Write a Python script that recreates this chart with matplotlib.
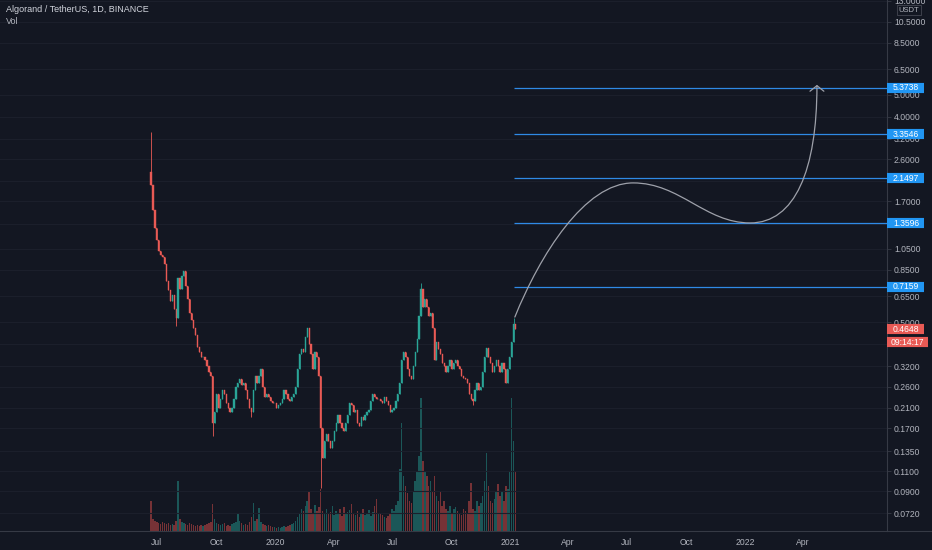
import matplotlib
matplotlib.use('Agg')
import matplotlib.pyplot as plt
import matplotlib.dates as mdates
from matplotlib.path import Path
from matplotlib.patches import FancyArrowPatch
from matplotlib.transforms import blended_transform_factory, ScaledTranslation
from matplotlib.lines import Line2D
from matplotlib.ticker import NullLocator
import numpy as np
import pandas as pd

plt.rcParams['font.family'] = ['Liberation Sans', 'DejaVu Sans']

title = 'Algorand / TetherUS, 1D, BINANCE'

# candles (3-day steps) from the listing up to the snapshot
start_date = '2019-06-22'
first_open = 2.30
closes = [
    2.00, 1.55, 1.30, 1.15, 1.03, 0.99, 0.97, 0.90, 0.76, 0.69,
    0.62, 0.66, 0.57, 0.52, 0.78, 0.70, 0.80, 0.84, 0.72, 0.63,
    0.55, 0.51, 0.47, 0.44, 0.39, 0.37, 0.35, 0.35, 0.34, 0.32,
    0.30, 0.29, 0.18, 0.20, 0.24, 0.21, 0.23, 0.25, 0.24, 0.22,
    0.21, 0.20, 0.21, 0.23, 0.26, 0.27, 0.28, 0.265, 0.27, 0.25,
    0.23, 0.21, 0.20, 0.25, 0.29, 0.27, 0.29, 0.31, 0.26, 0.235,
    0.24, 0.235, 0.225, 0.22, 0.22, 0.21, 0.215, 0.22, 0.23, 0.25,
    0.24, 0.23, 0.225, 0.235, 0.24, 0.26, 0.31, 0.36, 0.38, 0.37,
    0.43, 0.47, 0.40, 0.36, 0.31, 0.37, 0.35, 0.29, 0.17, 0.126,
    0.15, 0.16, 0.15, 0.14, 0.15, 0.165, 0.18, 0.195, 0.18, 0.17,
    0.165, 0.18, 0.195, 0.22, 0.215, 0.20, 0.205, 0.18, 0.175, 0.19,
    0.185, 0.195, 0.20, 0.205, 0.225, 0.24, 0.235, 0.23, 0.23, 0.225,
    0.22, 0.235, 0.225, 0.215, 0.20, 0.205, 0.21, 0.225, 0.24, 0.27,
    0.34, 0.37, 0.35, 0.31, 0.29, 0.28, 0.32, 0.37, 0.42, 0.53,
    0.70, 0.58, 0.63, 0.58, 0.53, 0.55, 0.47, 0.34, 0.41, 0.38,
    0.36, 0.33, 0.32, 0.30, 0.32, 0.34, 0.31, 0.33, 0.34, 0.32,
    0.31, 0.29, 0.285, 0.28, 0.27, 0.24, 0.23, 0.225, 0.25, 0.27,
    0.25, 0.26, 0.30, 0.35, 0.385, 0.35, 0.33, 0.30, 0.32, 0.34,
    0.32, 0.30, 0.33, 0.31, 0.27, 0.31, 0.35, 0.41, 0.49, 0.4648,
]
volumes = [
    30, 12, 10, 9, 8, 7, 9, 8, 7, 8,
    6, 7, 6, 10, 50, 12, 9, 8, 7, 6,
    8, 7, 6, 5, 6, 5, 6, 5, 6, 7,
    8, 9, 27, 12, 8, 7, 6, 7, 8, 5,
    6, 5, 7, 8, 9, 17, 10, 8, 6, 7,
    6, 9, 14, 28, 10, 12, 23, 9, 7, 6,
    5, 6, 5, 4, 4, 3, 4, 3, 4, 5,
    4, 5, 6, 7, 8, 10, 14, 18, 22, 20,
    25, 30, 40, 22, 18, 26, 20, 24, 42, 20,
    18, 22, 17, 19, 25, 16, 20, 18, 22, 15,
    24, 17, 19, 21, 27, 18, 16, 20, 14, 18,
    22, 16, 17, 21, 15, 19, 25, 32, 18, 17,
    16, 14, 13, 15, 18, 22, 20, 26, 30, 62,
    108, 55, 45, 38, 30, 28, 40, 50, 60, 75,
    133, 70, 60, 55, 45, 50, 40, 55, 35, 30,
    40, 25, 30, 22, 20, 25, 18, 22, 24, 20,
    18, 16, 22, 20, 18, 30, 48, 22, 20, 30,
    25, 28, 35, 50, 78, 45, 30, 28, 32, 40,
    47, 35, 40, 30, 45, 42, 60, 133, 90, 60,
]
# long wicks worth showing
wick_idx = [0, 13, 32, 52, 88, 140, 167, 188]
wick_val = [3.44, 0.48, 0.157, 0.19, 0.093, 0.74, 0.215, 0.52]

# horizontal target rays
levels = [5.3738, 3.3546, 2.1497, 1.3596, 0.7159]
level_start = '2021-01-07'
last_price = 0.4648
countdown = '09:14:17'

# hand drawn projection (bezier: anchor, ctrl, ctrl, anchor, ...)
path_dates = ['2021-01-08', '2021-02-16', '2021-04-27', '2021-07-11',
              '2021-09-22', '2021-10-31', '2022-01-09',
              '2022-03-20', '2022-04-23', '2022-04-23']
path_prices = [0.526, 0.988, 2.05, 2.05,
               2.05, 1.366, 1.366,
               1.366, 2.34, 5.54]

price_ticks = [0.072, 0.09, 0.11, 0.135, 0.17, 0.21, 0.26, 0.32, 0.4, 0.5,
               0.65, 0.85, 1.05, 1.35, 1.7, 2.1, 2.6, 3.2, 4.0, 5.0,
               6.5, 8.5, 10.5, 13.0]
# these sit under the price labels on the scale
hidden_ticks = [0.4, 1.35, 2.1]
date_ticks = ['2019-07-01', '2019-10-01', '2020-01-01', '2020-04-01',
              '2020-07-01', '2020-10-01', '2021-01-01', '2021-04-01',
              '2021-07-01', '2021-10-01', '2022-01-01', '2022-04-01']
date_labels = ['Jul', 'Oct', '2020', 'Apr', 'Jul', 'Oct', '2021', 'Apr',
               'Jul', 'Oct', '2022', 'Apr']

bg = '#131722'
grid_c = '#1b1f2b'
axis_c = '#363a45'
text_c = '#b2b5be'
up_c = '#2aa597'
down_c = '#e85a55'
line_blue = '#2f8ae6'
label_blue = '#2196f3'

dates = mdates.date2num(pd.date_range(start_date, periods=len(closes), freq='3D'))
closes = np.array(closes)
opens = np.array([first_open] + list(closes[:-1]))
highs = np.maximum(opens, closes)
lows = np.minimum(opens, closes)
for i, v in zip(wick_idx, wick_val):
    if v > highs[i]:
        highs[i] = v
    else:
        lows[i] = min(lows[i], v)
up = closes >= opens
cols = np.where(up, up_c, down_c)
vol_cols = [(0.149, 0.651, 0.604, 0.45) if u else (0.937, 0.325, 0.314, 0.45) for u in up]

fig = plt.figure(figsize=(9.32, 5.5), dpi=100, facecolor=bg)
rect = [0, 19 / 550, 887 / 932, 531 / 550]
ax_vol = fig.add_axes(rect)
ax = fig.add_axes(rect, sharex=ax_vol)
ax_vol.set_facecolor(bg)
ax.patch.set_visible(False)
ax_vol.set_zorder(0)
ax.set_zorder(1)

# volume overlay
ax_vol.bar(dates, volumes, width=2.3, color=vol_cols, linewidth=0)
ax_vol.set_ylim(0, max(volumes) * 4.0)
ax_vol.set_yticks([])
ax_vol.xaxis.set_visible(False)
for s in ax_vol.spines.values():
    s.set_visible(False)
ax_vol.grid(axis='x', color=grid_c, lw=0.8)
ax_vol.set_axisbelow(True)

# price
ax.set_yscale('log')
ax.vlines(dates, lows, highs, colors=cols, lw=0.6, zorder=3)
ax.bar(dates, np.abs(closes - opens), bottom=np.minimum(opens, closes),
       width=1.9, color=cols, edgecolor=cols, linewidth=0.3, zorder=3)

xmin = mdates.datestr2num('2018-10-30')
xmax = mdates.datestr2num('2022-08-10')
ax.set_xlim(xmin, xmax)
ax.set_ylim(0.0601, 13.1)

ax.hlines(levels, mdates.datestr2num(level_start), xmax, color=line_blue, lw=0.9, zorder=4)

verts = list(zip(mdates.datestr2num(path_dates), path_prices))
codes = [Path.MOVETO] + [Path.CURVE4] * (len(verts) - 1)
arrow = FancyArrowPatch(path=Path(verts, codes), arrowstyle='->,head_length=0.4,head_width=0.5',
                        mutation_scale=10, color='#9ea1aa', lw=0.9, transform=ax.transData, zorder=5)
ax.add_patch(arrow)

# axes styling
ax.yaxis.tick_right()
ax.set_yticks(price_ticks)
ax.set_yticklabels(['' if t in hidden_ticks else f'{t:.4f}' for t in price_ticks])
ax.yaxis.set_minor_locator(NullLocator())
ax.set_xticks(mdates.datestr2num(date_ticks))
ax.set_xticklabels(date_labels)
ax.tick_params(axis='y', length=3, width=0.6, color=axis_c, labelcolor=text_c, labelsize=6.2, pad=2)
ax.tick_params(axis='x', length=0, labelcolor=text_c, labelsize=6.2, pad=5)
ax.grid(axis='y', color=grid_c, lw=0.8)
ax.set_axisbelow(True)
for side in ['top', 'left']:
    ax.spines[side].set_visible(False)
for side in ['right', 'bottom']:
    ax.spines[side].set_color(axis_c)
    ax.spines[side].set_linewidth(0.8)
fig.add_artist(Line2D([887 / 932, 1], [19 / 550, 19 / 550], transform=fig.transFigure,
                      color=axis_c, lw=0.8))

# price labels on the scale
trans = blended_transform_factory(ax.transAxes, ax.transData)
box_w = 37 / 887
for lv in levels:
    ax.plot([1.0, 1.0 + box_w], [lv, lv], transform=trans, color=label_blue, lw=7.3,
            solid_capstyle='butt', clip_on=False, zorder=6)
    ax.text(1.0 + 6 / 887, lv, f'{lv:.4f}', transform=trans, ha='left', va='center',
            color='white', fontsize=6.2, zorder=7, clip_on=False)

ax.plot([1.0, 1.0 + box_w], [last_price, last_price], transform=trans, color=down_c, lw=7.3,
        solid_capstyle='butt', clip_on=False, zorder=6)
ax.text(1.0 + 6 / 887, last_price, f'{last_price:.4f}', transform=trans, ha='left', va='center',
        color='white', fontsize=6.2, zorder=7, clip_on=False)
trans_cd = trans + ScaledTranslation(0, -13 / 100, fig.dpi_scale_trans)
ax.plot([1.0, 1.0 + 41 / 887], [last_price, last_price], transform=trans_cd, color=down_c, lw=7.3,
        solid_capstyle='butt', clip_on=False, zorder=6)
ax.text(1.0 + 4 / 887, last_price, countdown, transform=trans_cd, ha='left', va='center',
        color='white', fontsize=6.2, zorder=7, clip_on=False)

fig.text(909 / 932, 1 - 10 / 550, 'USDT', ha='center', va='center', fontsize=5.5, color=text_c,
         bbox=dict(boxstyle='square,pad=0.2', fc=bg, ec='#434651', lw=0.6))

fig.text(6 / 932, 1 - 10 / 550, title, ha='left', va='center', fontsize=6.5, color='#d1d4dc')
fig.text(6 / 932, 1 - 22 / 550, 'Vol', ha='left', va='center', fontsize=6.5, color=text_c)

fig.savefig('out.png', dpi=100, facecolor=bg)
